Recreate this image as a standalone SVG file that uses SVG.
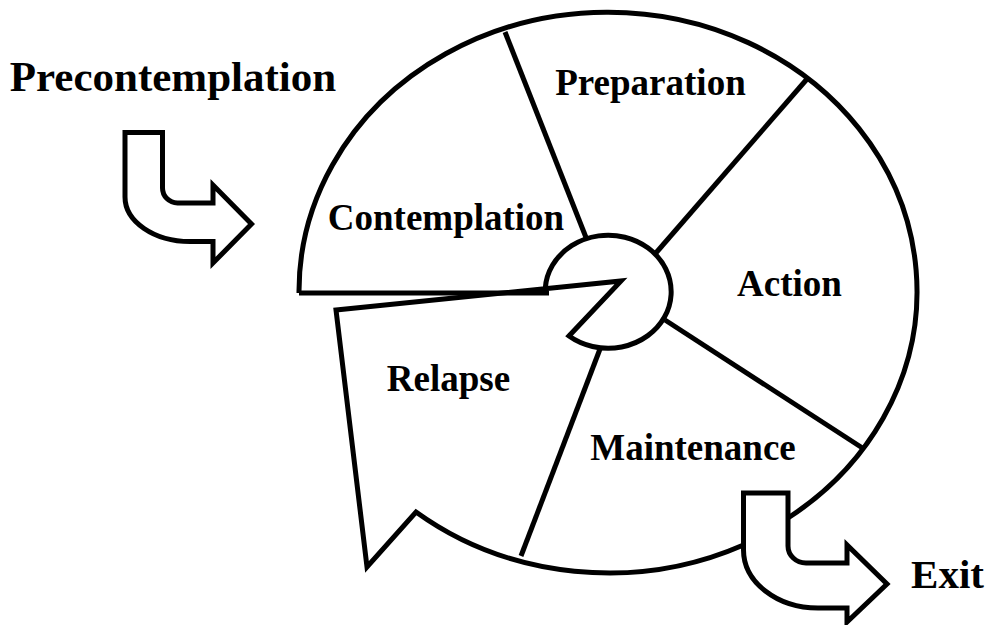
<svg xmlns="http://www.w3.org/2000/svg" width="989" height="625" viewBox="0 0 989 625">
<style>
.o{fill:none;stroke:#000;stroke-width:5;stroke-linejoin:miter;stroke-miterlimit:10}
.f{fill:#fff;stroke:#000;stroke-width:5;stroke-linejoin:miter;stroke-miterlimit:10}
.t{font-family:"Liberation Serif","Times New Roman",serif;font-weight:bold;font-size:37px;fill:#000;text-anchor:middle}
.big{font-size:43px}
.ex{font-size:41px}
</style>
<rect width="989" height="625" fill="#fff"/>
<g id="wheel">
<path class="o" d="M 299 293 A 309 279 0 1 1 788 518"/>
<path class="o" d="M 299 293 L 549 293"/>
</g>
<g id="relapse">
<path class="o" d="M 743.5 545 A 309 279 0 0 1 416 512 L 367 567 L 336 310 L 621 281 L 569 336 A 63 56.5 0 1 0 545.3 288"/>
<text class="t" x="448.5" y="390.5">Relapse</text>
</g>
<g id="connectors">
<line class="o" x1="587" y1="240" x2="505" y2="32"/>
<line class="o" x1="655" y1="254" x2="807" y2="79"/>
<line class="o" x1="665" y1="320" x2="864" y2="449"/>
<line class="o" x1="600" y1="349" x2="521" y2="556"/>
</g>
<g id="contemplation"><text class="t" x="446" y="230">Contemplation</text></g>
<g id="preparation"><text class="t" x="650.5" y="95">Preparation</text></g>
<g id="action"><text class="t" x="789.5" y="296">Action</text></g>
<g id="maintenance"><text class="t" x="693" y="460">Maintenance</text></g>
<g id="precontemplation">
<text class="t big" x="173" y="91">Precontemplation</text>
<path class="f" d="M 125 132.5 L 162.5 132.5 L 162.5 188 A 15 15 0 0 0 177.5 203 L 213 203 L 213 185 L 251.5 224 L 213 263 L 213 241.5 L 190 241.5 A 65 44.5 0 0 1 125 197 Z"/>
</g>
<g id="exit">
<path class="f" d="M 743.5 493 L 788 493 L 788 546 A 18 17 0 0 0 806 563 L 847 563 L 847 545 L 887 584 L 847 622 L 847 608 L 818 608 A 74.5 58 0 0 1 743.5 550 Z"/>
<text class="t ex" x="947.5" y="588">Exit</text>
</g>
</svg>
